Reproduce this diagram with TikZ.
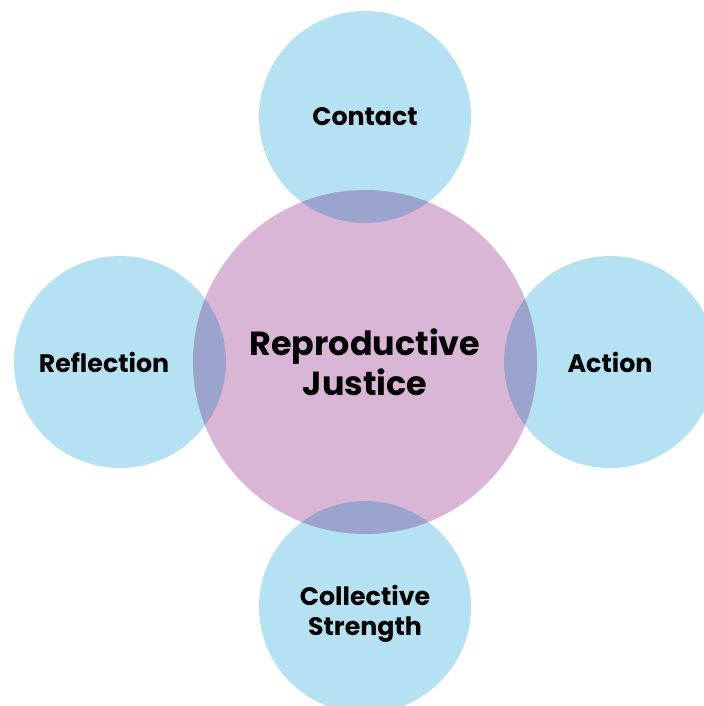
\documentclass[tikz,border=0pt]{standalone}
\usepackage{fontspec}
\setmainfont{Poppins}
\usepackage{xcolor}
\definecolor{lblue}{RGB}{180,226,242}
\definecolor{lpink}{RGB}{218,182,214}
\definecolor{ovlp} {RGB}{155,164,204}
\tikzset{
  % Blue outer circle
  BC/.style={circle,fill=lblue,minimum size=212*0.02cm,inner sep=0pt,
             align=center,font=\fontsize{14.4}{17}\selectfont\bfseries},
  % Text for an outer circle, placed on its own
  BT/.style={align=center,inner sep=0pt,
             font=\fontsize{14.4}{17}\selectfont\bfseries},
  % Pink centre circle
  PC/.style={circle,fill=lpink,minimum size=344*0.02cm,inner sep=0pt,
             align=center,font=\fontsize{19}{22.8}\selectfont\bfseries},
}
\begin{document}
\begin{tikzpicture}[x=0.02cm,y=-0.02cm]
      \useasboundingbox (0,0) rectangle (703,706);
      % Four outer circles
      \node[BC] at (365,117) (contact) {Contact};
      \node[BC] at (120,362) (refl) {};
      \node[BC] at (610,362) (action) {Action};
      \node[BC] at (365,607) (coll) {};
      % Centre circle
      \node[PC] at (365,362) (rj) {Reproductive\\Justice};
      % Overlaps
      \begin{scope}
        \clip (rj.center) circle[radius=172];
        \foreach \c in {contact,refl,action,coll}
          \fill[ovlp] (\c.center) circle[radius=106];
      \end{scope}
      % Off-centre labels
      \node[BT] at (104,362) (refltxt) {Reflection};
      \node[BT] at (365,614) (colltxt) {Collective\\Strength};
    \end{tikzpicture}
\end{document}
